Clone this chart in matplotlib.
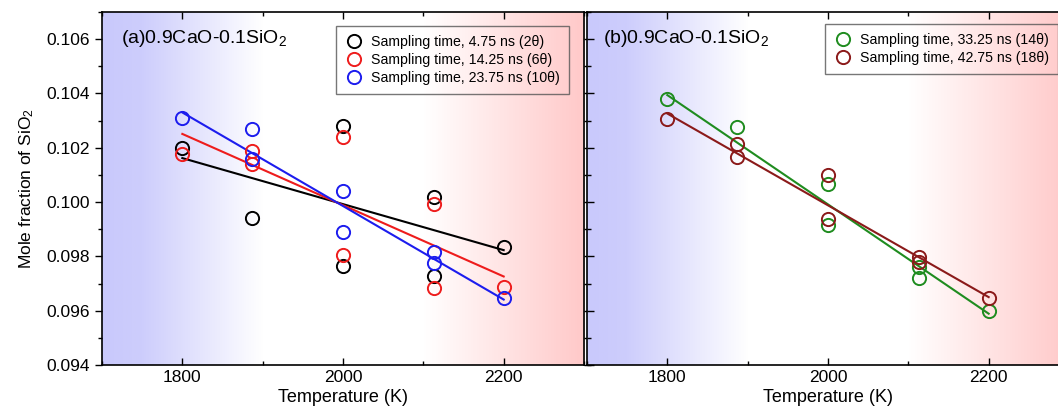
import numpy as np
import matplotlib
matplotlib.use('Agg')
import matplotlib.pyplot as plt
from matplotlib.colors import LinearSegmentedColormap
from matplotlib.ticker import MultipleLocator

plt.rcParams['font.family'] = ['Liberation Sans', 'DejaVu Sans']
plt.rcParams['mathtext.fontset'] = 'custom'
plt.rcParams['mathtext.rm'] = 'Liberation Sans'
plt.rcParams['mathtext.it'] = 'Liberation Sans:italic'

# ---- data ----
# panel (a)
t_black = [1800, 1887, 2000, 2000, 2113, 2113, 2200]
y_black = [0.10199, 0.09940, 0.10280, 0.09763, 0.10019, 0.09727, 0.09835]
t_red = [1800, 1887, 1887, 2000, 2000, 2113, 2113, 2200]
y_red = [0.10178, 0.10189, 0.10140, 0.10238, 0.09806, 0.09992, 0.09684, 0.09687]
t_blue = [1800, 1887, 1887, 2000, 2000, 2113, 2113, 2200]
y_blue = [0.10308, 0.10268, 0.10158, 0.10040, 0.09888, 0.09815, 0.09777, 0.09648]

# panel (b)
t_green = [1800, 1887, 2000, 2000, 2113, 2113, 2200]
y_green = [0.10378, 0.10278, 0.10067, 0.09916, 0.09762, 0.09721, 0.09600]
t_dred = [1800, 1887, 1887, 2000, 2000, 2113, 2113, 2200]
y_dred = [0.10305, 0.10213, 0.10165, 0.10098, 0.09937, 0.09799, 0.09778, 0.09646]

# linear fit lines (end points at 1800 K and 2200 K)
fit_t = [1800, 2200]
fit_black = [0.10162, 0.09823]
fit_red = [0.10251, 0.09726]
fit_blue = [0.10330, 0.09641]
fit_green = [0.10394, 0.09589]
fit_dred = [0.10326, 0.09650]

labels_a = ['Sampling time, 4.75 ns (2\u03b8)',
            'Sampling time, 14.25 ns (6\u03b8)',
            'Sampling time, 23.75 ns (10\u03b8)']
labels_b = ['Sampling time, 33.25 ns (14\u03b8)',
            'Sampling time, 42.75 ns (18\u03b8)']

xlim = (1700, 2300)
ylim = (0.094, 0.107)

# background: blue (cold) -> white -> red (hot)
bg_cmap = LinearSegmentedColormap.from_list(
    'bg', [(0.0, '#c9c9fc'), (0.08, '#cdcdfc'), (1/3, '#ffffff'),
           (2/3, '#ffffff'), (1.0, '#ffc9c9')])


def style_axes(ax):
    ax.set_xlim(*xlim)
    ax.set_ylim(*ylim)
    grad = np.linspace(0, 1, 600).reshape(1, -1)
    ax.imshow(grad, cmap=bg_cmap, aspect='auto', zorder=0,
              extent=[xlim[0], xlim[1], ylim[0], ylim[1]], origin='lower')
    ax.xaxis.set_major_locator(MultipleLocator(200))
    ax.xaxis.set_minor_locator(MultipleLocator(100))
    ax.yaxis.set_major_locator(MultipleLocator(0.002))
    ax.yaxis.set_minor_locator(MultipleLocator(0.001))
    ax.tick_params(axis='x', which='both', direction='in', top=True, labelsize=12.5)
    ax.tick_params(axis='y', which='both', direction='in', right=True, labelsize=12.5)
    ax.tick_params(which='major', length=5, width=1)
    ax.tick_params(which='minor', length=3, width=1)
    for s in ax.spines.values():
        s.set_linewidth(1.2)
        s.set_zorder(5)
    ax.set_xlabel('Temperature (K)', fontsize=13, labelpad=3)


def series(ax, t, y, ft, fy, color, label):
    ax.plot(t, y, 'o', mfc='none', mec=color, ms=9.5, mew=1.4,
            label=label, zorder=3)
    ax.plot(ft, fy, '-', color=color, lw=1.5, zorder=2)


def add_legend(ax, loc, anchor):
    leg = ax.legend(loc=loc, bbox_to_anchor=anchor, fontsize=10.2,
                    frameon=True, fancybox=False, edgecolor='#555555',
                    handletextpad=0.6, borderpad=0.65, labelspacing=0.28,
                    handlelength=1.2, borderaxespad=0)
    leg.get_frame().set_linewidth(1.0)
    leg.get_frame().set_facecolor('none')
    return leg


fig = plt.figure(figsize=(10.58, 4.18), dpi=100)
ax1 = fig.add_axes([0.0964, 0.1268, 0.4556, 0.8445])
ax2 = fig.add_axes([0.5548, 0.1268, 0.4556, 0.8445])

style_axes(ax1)
series(ax1, t_black, y_black, fit_t, fit_black, 'black', labels_a[0])
series(ax1, t_red, y_red, fit_t, fit_red, '#ee1c1c', labels_a[1])
series(ax1, t_blue, y_blue, fit_t, fit_blue, '#1c1cee', labels_a[2])
ax1.tick_params(axis='y', which='both', left=True, direction='out')
ax1.set_ylabel('Mole fraction of SiO$_2$', fontsize=12.5, labelpad=8)
ax1.yaxis.set_major_formatter(plt.FormatStrFormatter('%.3f'))
ax1.text(0.04, 0.925, '(a)0.9CaO-0.1SiO$_2$', transform=ax1.transAxes,
         fontsize=14, va='center', ha='left')
add_legend(ax1, 'upper right', (0.968, 0.96))

style_axes(ax2)
series(ax2, t_green, y_green, fit_t, fit_green, '#1f8c1f', labels_b[0])
series(ax2, t_dred, y_dred, fit_t, fit_dred, '#8b1a1a', labels_b[1])
ax2.tick_params(axis='y', which='both', labelleft=False)
ax2.text(0.033, 0.925, '(b)0.9CaO-0.1SiO$_2$', transform=ax2.transAxes,
         fontsize=14, va='center', ha='left')
add_legend(ax2, 'upper left', (0.494, 0.966))

fig.savefig('out.png', dpi=100)
